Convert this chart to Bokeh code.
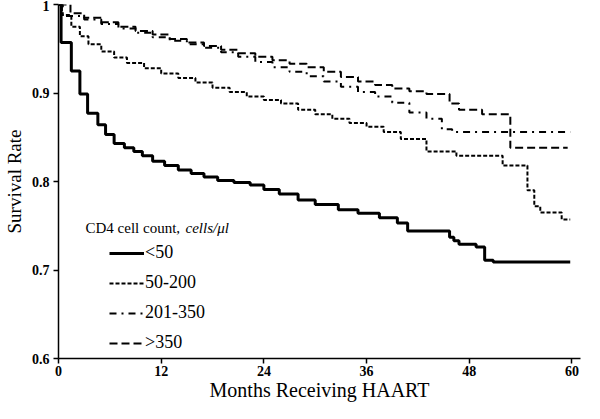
from bokeh.plotting import figure
from bokeh.models import FixedTicker, CustomJSTickFormatter, Label, Range1d
from bokeh.embed import file_html
from bokeh.resources import INLINE

# ---- data (months, survival) ----
t_lt50 = [0, 0.3, 1.5, 2.5, 3.4, 4.6, 5.5, 6.5, 7.7, 8.8, 9.8, 11, 12.4, 14, 15.5, 17, 18.6,
          20.5, 22.4, 24, 25.8, 28, 30, 32.7, 35, 37.5, 39.6, 40.8, 45.7, 46.2, 46.8, 48.8,
          49.8, 50.8, 59.8]
s_lt50 = [1.0, 0.957, 0.925, 0.899, 0.877, 0.864, 0.853, 0.843, 0.838, 0.834, 0.829, 0.823,
          0.818, 0.813, 0.809, 0.805, 0.801, 0.799, 0.796, 0.791, 0.786, 0.779, 0.774, 0.768,
          0.764, 0.759, 0.753, 0.744, 0.737, 0.733, 0.729, 0.726, 0.711, 0.709, 0.709]

t_50_200 = [0, 0.4, 1.5, 2.5, 3.5, 5, 6.5, 8, 10, 12, 14, 16, 18, 20, 22, 24, 26, 28, 30, 32,
            34, 36, 38, 40, 43, 46.5, 51.9, 54.8, 55.6, 56.3, 58.8, 59.8]
s_50_200 = [1.0, 0.988, 0.975, 0.964, 0.955, 0.947, 0.940, 0.934, 0.928, 0.922, 0.917, 0.912,
            0.906, 0.901, 0.896, 0.892, 0.888, 0.881, 0.876, 0.871, 0.866, 0.862, 0.856, 0.848,
            0.834, 0.829, 0.818, 0.790, 0.772, 0.765, 0.757, 0.757]

t_201_350 = [0, 0.5, 3, 5, 7, 9, 11, 13, 15, 17, 19, 21, 23, 25, 27, 29, 31, 33, 35, 37, 39,
             41, 43, 44.8, 46, 59.8]
s_201_350 = [1.0, 0.987, 0.983, 0.978, 0.973, 0.968, 0.963, 0.959, 0.955, 0.951, 0.946, 0.941,
             0.935, 0.929, 0.924, 0.919, 0.913, 0.907, 0.901, 0.896, 0.889, 0.878, 0.871, 0.859,
             0.856, 0.856]

t_gt350 = [0, 1.4, 3, 5, 7, 9, 11, 13, 15, 17, 19, 21, 23, 25, 27, 29, 31, 33, 35, 37, 39, 41,
           43, 45.7, 46.8, 49.5, 52.8, 59.5]
s_gt350 = [1.0, 0.99, 0.985, 0.980, 0.975, 0.970, 0.966, 0.961, 0.957, 0.953, 0.949, 0.945,
           0.941, 0.937, 0.933, 0.929, 0.924, 0.918, 0.913, 0.909, 0.905, 0.902, 0.899, 0.888,
           0.881, 0.876, 0.838, 0.838]

x_ticks = [0, 12, 24, 36, 48, 60]
y_ticks = [0.6, 0.7, 0.8, 0.9, 1.0]
series_labels = ["<50", "50-200", "201-350", ">350"]

SERIF = "Liberation Serif"

p = figure(width=584, height=403, output_backend="svg", toolbar_location=None,
           x_range=Range1d(0, 61), y_range=Range1d(0.6, 1.0),
           min_border_left=46, min_border_right=4, min_border_top=4, min_border_bottom=0)
p.outline_line_color = None
p.xgrid.visible = False
p.ygrid.visible = False

p.step(t_lt50, s_lt50, mode="after", line_color="black", line_width=3, legend_label=series_labels[0])
p.step(t_50_200, s_50_200, mode="after", line_color="black", line_width=2,
       line_dash="4 2", legend_label=series_labels[1])
p.step(t_201_350, s_201_350, mode="after", line_color="black", line_width=2,
       line_dash="7 5 2 5", legend_label=series_labels[2])
p.step(t_gt350, s_gt350, mode="after", line_color="black", line_width=2,
       line_dash="8 4", legend_label=series_labels[3])

for ax in (p.xaxis[0], p.yaxis[0]):
    ax.axis_line_color = "black"
    ax.axis_line_width = 1.5
    ax.major_tick_line_color = "black"
    ax.major_tick_line_width = 1.5
    ax.major_tick_out = 5
    ax.major_tick_in = 0
    ax.minor_tick_line_color = None
    ax.major_label_text_font = SERIF
    ax.major_label_text_font_style = "bold"
    ax.major_label_text_font_size = "14px"
    ax.major_label_text_color = "black"
    ax.axis_label_text_font = SERIF
    ax.axis_label_text_font_style = "normal"
    ax.axis_label_text_color = "black"

p.xaxis.ticker = FixedTicker(ticks=x_ticks)
p.yaxis.ticker = FixedTicker(ticks=y_ticks)
p.yaxis.formatter = CustomJSTickFormatter(code="return tick > 0.999 ? '1' : tick.toFixed(1);")
p.xaxis.axis_label = "Months Receiving HAART"
p.yaxis.axis_label = "Survival Rate"
p.xaxis.axis_label_text_font_size = "20px"
p.yaxis.axis_label_text_font_size = "19px"
p.xaxis.axis_label_standoff = 0
p.yaxis.axis_label_standoff = 4
p.xaxis.major_label_standoff = 2
p.yaxis.major_label_standoff = 4

leg = p.legend[0]
leg.location = (51, 5)
leg.border_line_alpha = 0
leg.background_fill_alpha = 0
leg.label_text_font = SERIF
leg.label_text_font_size = "18px"
leg.label_text_color = "black"
leg.glyph_width = 35
leg.glyph_height = 20
leg.label_height = 20
leg.label_standoff = 1
leg.spacing = 9
leg.padding = 0
leg.margin = 0

p.add_layout(Label(x=27, y=131, x_units="screen", y_units="screen", text="CD4 cell count, ",
                   text_font=SERIF, text_font_size="15px", text_baseline="middle",
                   text_color="black"))
p.add_layout(Label(x=127, y=131, x_units="screen", y_units="screen", text="cells/\u03bcl",
                   text_font=SERIF, text_font_size="15px", text_font_style="italic",
                   text_baseline="middle", text_color="black"))

open("out.html", "w").write(file_html(p, INLINE))
